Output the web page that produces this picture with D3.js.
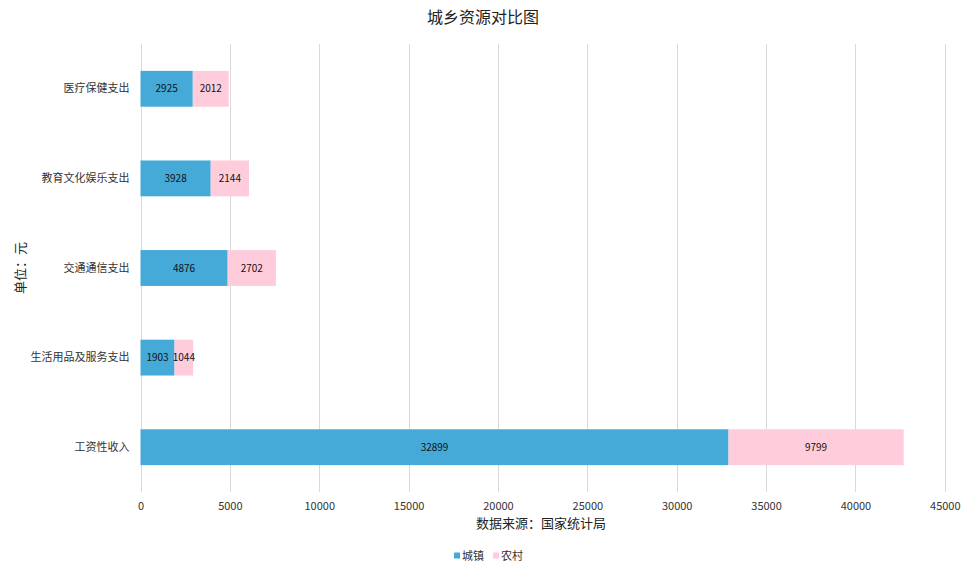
<!DOCTYPE html>
<html>
<head>
<meta charset="utf-8">
<script src="https://cdn.jsdelivr.net/npm/d3@7"></script>
<style>
  body { margin: 0; background: #fff; }
  text { font-family: "Noto Sans CJK SC", "Noto Sans", sans-serif; }
</style>
</head>
<body>
<div id="chart"></div>
<script>
// Data
const categories = ["医疗保健支出", "教育文化娱乐支出", "交通通信支出", "生活用品及服务支出", "工资性收入"];
const urban = [2925, 3928, 4876, 1903, 32899];
const rural = [2012, 2144, 2702, 1044, 9799];
const seriesNames = ["城镇", "农村"];
const xTicks = [0, 5000, 10000, 15000, 20000, 25000, 30000, 35000, 40000, 45000];

const width = 970;
const height = 569;
const colors = ["#46aad8", "#ffccdc"];

const xScale = d3.scaleLinear()
    .domain([0, 45000])
    .range([140.5, 944.8]);

const yScale = d3.scaleBand()
    .domain(categories)
    .range([44, 492])
    .paddingInner(0.6)
    .paddingOuter(0.3);

const svg = d3.select("#chart")
    .append("svg")
    .attr("width", width)
    .attr("height", height);

// title
svg.append("text")
    .attr("x", 483)
    .attr("y", 23)
    .attr("text-anchor", "middle")
    .attr("font-size", 16)
    .attr("fill", "#222")
    .text("城乡资源对比图");

// grid lines
svg.append("g")
    .selectAll("line")
    .data(xTicks)
    .join("line")
    .attr("x1", d => Math.round(xScale(d)) + 0.5)
    .attr("x2", d => Math.round(xScale(d)) + 0.5)
    .attr("y1", 44)
    .attr("y2", 492)
    .attr("stroke", "#d9d9d9")
    .attr("stroke-width", 1);

// x axis
const xAxis = d3.axisBottom(xScale)
    .tickValues(xTicks)
    .tickSize(0)
    .tickPadding(10)
    .tickFormat(d3.format("d"));

const gx = svg.append("g")
    .attr("transform", "translate(0,492)")
    .call(xAxis);
gx.select(".domain").remove();
gx.selectAll("text")
    .attr("font-size", 11)
    .attr("fill", "#333")
    .style("font-family", "'Noto Sans CJK SC', sans-serif");

// y axis
const yAxis = d3.axisLeft(yScale)
    .tickSize(0)
    .tickPadding(11);

const gy = svg.append("g")
    .attr("transform", "translate(140.5,0)")
    .call(yAxis);
gy.select(".domain").remove();
gy.selectAll("text")
    .attr("font-size", 11)
    .attr("fill", "#333")
    .style("font-family", "'Noto Sans CJK SC', sans-serif");

// stacked bars
const rows = categories.map((c, i) => ({cat: c, urban: urban[i], rural: rural[i]}));
const stack = d3.stack().keys(["urban", "rural"]);
const layers = stack(rows);

const groups = svg.append("g")
    .selectAll("g")
    .data(layers)
    .join("g")
    .attr("fill", (d, i) => colors[i]);

groups.selectAll("rect")
    .data(d => d)
    .join("rect")
    .attr("x", d => xScale(d[0]))
    .attr("y", d => yScale(d.data.cat))
    .attr("width", d => xScale(d[1]) - xScale(d[0]))
    .attr("height", yScale.bandwidth());

groups.selectAll("text")
    .data(d => d)
    .join("text")
    .attr("x", d => (xScale(d[0]) + xScale(d[1])) / 2)
    .attr("y", d => yScale(d.data.cat) + yScale.bandwidth() / 2)
    .attr("dy", "0.35em")
    .attr("text-anchor", "middle")
    .attr("font-size", 10)
    .attr("fill", "#111")
    .text(d => d[1] - d[0]);

// axis titles
svg.append("text")
    .attr("transform", "translate(25,268) rotate(-90)")
    .attr("text-anchor", "middle")
    .attr("font-size", 13)
    .attr("fill", "#222")
    .text("单位：元");

svg.append("text")
    .attr("x", 541)
    .attr("y", 528)
    .attr("text-anchor", "middle")
    .attr("font-size", 13)
    .attr("fill", "#222")
    .text("数据来源：国家统计局");

// legend
const legend = svg.append("g")
    .selectAll("g")
    .data(seriesNames)
    .join("g")
    .attr("transform", (d, i) => "translate(" + (454 + i * 39) + ",556)");

legend.append("rect")
    .attr("x", 0)
    .attr("y", -3.5)
    .attr("width", 6)
    .attr("height", 6)
    .attr("fill", (d, i) => colors[i]);

legend.append("text")
    .attr("x", 8)
    .attr("dy", "0.35em")
    .attr("font-size", 11)
    .attr("fill", "#333")
    .text(d => d);
</script>
</body>
</html>
